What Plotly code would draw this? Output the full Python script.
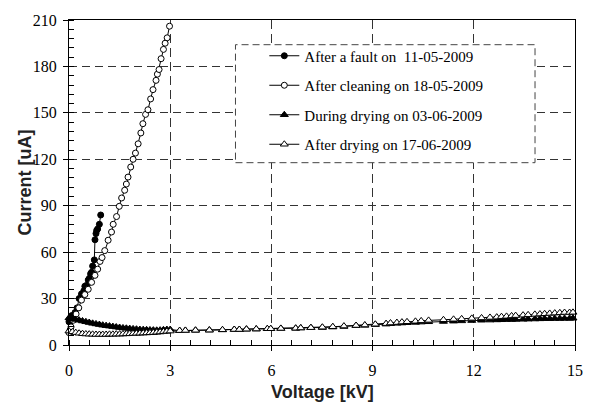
import plotly.graph_objects as go

# ---- data ----
fault_x = [0.0, 0.03, 0.08, 0.11, 0.18, 0.24, 0.30, 0.37, 0.44, 0.47, 0.52, 0.57, 0.60,
           0.64, 0.67, 0.70, 0.75, 0.77, 0.80, 0.82, 0.85, 0.90, 0.94]
fault_y = [15, 17, 19, 17.5, 21, 24, 30, 33, 35, 38, 38.5, 42, 43,
           46, 47, 51, 55, 68, 72, 74, 75, 78, 84]

clean_x = [0.0, 0.03, 0.06, 0.13, 0.21, 0.29, 0.37, 0.47, 0.57, 0.67, 0.77, 0.85, 0.92, 0.98,
           1.06, 1.16, 1.26, 1.31, 1.41, 1.49, 1.56, 1.65, 1.70, 1.75, 1.83, 1.90, 1.97, 2.05,
           2.13, 2.19, 2.27, 2.34, 2.42, 2.49, 2.58, 2.62, 2.67, 2.73, 2.80, 2.85, 2.91, 2.98]
clean_y = [8, 9.6, 11.7, 16, 20, 24, 29, 32.6, 36, 40.5, 45, 49, 54, 56.5,
           61, 67.7, 73, 78, 83, 89.6, 95, 100, 104, 108.5, 115, 120, 124, 130,
           137, 143, 149, 152, 159, 165, 171, 175, 178, 185, 191, 195, 198.5, 206]

during_x = [0.0, 0.1, 0.2, 0.3, 0.4, 0.5, 0.6, 0.7, 0.8, 0.9, 1.0, 1.1, 1.2, 1.3, 1.4, 1.5,
            1.6, 1.7, 1.8, 1.9, 2.0, 2.1, 2.2, 2.3, 2.4, 2.5, 2.6, 2.7, 2.8, 2.9, 3.0,
            3.28, 3.45, 3.75, 4.16, 4.55, 4.9, 5.05, 5.26, 5.55, 5.88, 5.98, 6.28, 6.72, 6.87,
            7.17, 7.51, 7.82, 8.15, 8.51, 8.77, 9.08, 9.40, 9.53, 9.72, 9.87, 10.02, 10.27,
            10.44, 10.66, 11.10, 11.40, 11.64, 11.94, 12.23, 12.48, 12.68, 12.82, 12.97, 13.12,
            13.24, 13.46, 13.61, 13.81, 13.96, 14.10, 14.25, 14.40, 14.55, 14.69, 14.84, 14.94]
during_y = [17.5, 17, 16.5, 16, 15.5, 15, 14.5, 14, 13.6, 13.2, 12.8, 12.5, 12.2, 11.9, 11.6, 11.3,
            11.0, 10.8, 10.6, 10.4, 10.2, 10.0, 9.9, 9.8, 9.7, 9.6, 9.5, 9.6, 9.8, 10, 10,
            9.3, 9.4, 9.5, 9.6, 9.8, 10, 10, 10.2, 10.3, 10.5, 10.5, 10.7, 10.8, 11,
            11.2, 11.3, 11.6, 12.0, 12.5, 12.7, 13.2, 13.5, 13.8, 14.0, 14.2, 14.4, 14.6,
            14.8, 15.0, 15.2, 15.4, 15.6, 15.8, 16.0, 16.1, 16.2, 16.3, 16.4, 16.5,
            16.5, 16.6, 16.7, 16.8, 16.9, 17.0, 17.0, 17.1, 17.1, 17.2, 17.2, 17.3]

after_x = [0.0, 0.1, 0.2, 0.3, 0.4, 0.5, 0.6, 0.7, 0.8, 0.9, 1.0, 1.1, 1.2, 1.3, 1.4, 1.5,
           1.6, 1.7, 1.8, 1.9, 2.0, 2.1, 2.2, 2.3, 2.4, 2.5, 2.6, 2.7, 2.8, 2.9, 3.0,
           3.28, 3.45, 3.75, 4.16, 4.55, 4.9, 5.05, 5.26, 5.55, 5.88, 5.98, 6.28, 6.72, 6.87,
           7.17, 7.51, 7.82, 8.15, 8.51, 8.77, 9.08, 9.40, 9.53, 9.72, 9.87, 10.02, 10.27,
           10.44, 10.66, 11.10, 11.40, 11.64, 11.94, 12.23, 12.48, 12.68, 12.82, 12.97, 13.12,
           13.24, 13.46, 13.61, 13.81, 13.96, 14.10, 14.25, 14.40, 14.55, 14.69, 14.84, 14.94]
after_y = [9, 8.5, 8, 7.6, 7.3, 7.1, 7, 6.9, 6.8, 6.8, 6.8, 6.8, 6.9, 6.9, 7, 7,
           7.1, 7.2, 7.3, 7.4, 7.5, 7.6, 7.7, 7.8, 7.9, 8, 8.2, 8.4, 8.6, 8.8, 9,
           9.3, 9.4, 9.5, 9.6, 9.8, 10, 10, 10.2, 10.3, 10.5, 10.5, 10.7, 10.8, 11,
           11.2, 11.5, 11.8, 12.2, 12.6, 12.9, 13.4, 13.8, 14.2, 14.5, 14.8, 15, 15.3,
           15.6, 15.9, 16.3, 16.6, 16.9, 17.2, 17.5, 17.8, 18, 18.3, 18.5, 18.8,
           19, 19.3, 19.5, 19.8, 20, 20.2, 20.4, 20.6, 20.8, 21, 21, 21.1]

names = ["After a fault on \u00a011-05-2009", "After cleaning on 18-05-2009",
         "During drying on 03-06-2009", "After drying on 17-06-2009"]

x_ticks = [0, 3, 6, 9, 12, 15]
y_ticks = [0, 30, 60, 90, 120, 150, 180, 210]

fig = go.Figure()
series = [
    (fault_x, fault_y, "circle", "black", 6),
    (clean_x, clean_y, "circle", "white", 6),
    (during_x, during_y, "triangle-up", "black", 7),
    (after_x, after_y, "triangle-up", "white", 7),
]
for i, (xs, ys, sym, fill, sz) in enumerate(series):
    fig.add_trace(go.Scatter(
        x=xs, y=ys, mode="lines+markers", name=names[i], legendgroup=f"g{i}",
        line=dict(color="black", width=1),
        marker=dict(symbol=sym, size=sz, color=fill, line=dict(color="black", width=1)),
        cliponaxis=False,
    ))

serif = "Liberation Serif, Times New Roman, serif"
sans = "Liberation Sans, Arial, sans-serif"

fig.add_shape(type="rect", xref="paper", yref="paper", x0=0.329, x1=0.921, y0=0.561, y1=0.924,
              line=dict(color="#444", width=1, dash="7px,4px"), fillcolor="white", layer="above")

fig.update_layout(
    width=595, height=403,
    margin=dict(l=69, r=18, t=17, b=58),
    paper_bgcolor="white", plot_bgcolor="white",
    font=dict(family=serif, size=15, color="black"),
    showlegend=True,
    legend=dict(x=0.386, y=0.94, xanchor="left", yanchor="top",
                bgcolor="rgba(0,0,0,0)", borderwidth=0, tracegroupgap=7,
                traceorder="grouped", font=dict(family=serif, size=15)),
    xaxis=dict(range=[0, 15], tickvals=x_ticks, ticks="outside", ticklen=5, tickcolor="black",
               showline=True, linecolor="black", linewidth=1, mirror=True,
               showgrid=True, gridcolor="#333", gridwidth=1, griddash="9px,5px",
               zeroline=False, tickfont=dict(family=serif, size=16), ticklabelstandoff=6,
               minor=dict(dtick=0.6, ticks="inside", ticklen=5, tickcolor="black", showgrid=False)),
    yaxis=dict(range=[0, 210], tickvals=y_ticks, ticks="outside", ticklen=5, tickcolor="black",
               showline=True, linecolor="black", linewidth=1, mirror=True,
               showgrid=True, gridcolor="#333", gridwidth=1, griddash="8px,5px",
               zeroline=False, tickfont=dict(family=serif, size=16), ticklabelstandoff=3,
               minor=dict(dtick=6, ticks="inside", ticklen=5, tickcolor="black", showgrid=False)),
    annotations=[
        dict(text="<b>Voltage [kV]</b>", xref="paper", yref="paper", x=0.5, y=-0.145,
             xanchor="center", yanchor="middle", showarrow=False,
             font=dict(family=sans, size=18, color="#222")),
        dict(text="<b>Current [uA]</b>", xref="paper", yref="paper", x=-0.087, y=0.5,
             xanchor="center", yanchor="middle", textangle=-90, showarrow=False,
             font=dict(family=sans, size=18, color="#222")),
    ],
)

fig.write_html("out.html")
